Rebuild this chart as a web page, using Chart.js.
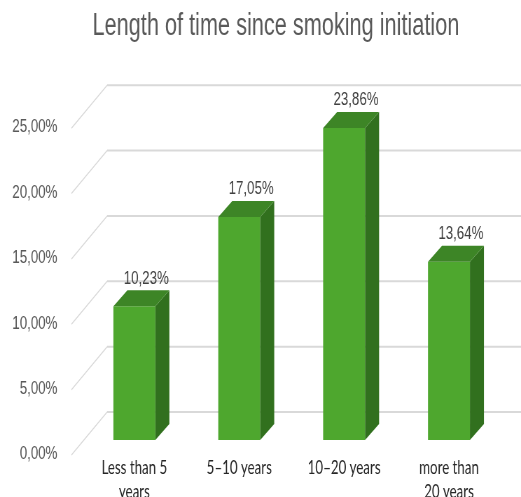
<!DOCTYPE html>
<html>
<head>
<meta charset="utf-8">
<script src="https://cdn.jsdelivr.net/npm/chart.js@4/dist/chart.umd.min.js"></script>
<style>
  html, body { margin: 0; padding: 0; background: #fff; overflow: hidden; }
  canvas { display: block; }
</style>
</head>
<body>
<!-- drawn on a wider backing canvas and squeezed to 521px, which gives the condensed lettering -->
<canvas id="chart" width="744" height="497" style="width:521px;height:497px"></canvas>
<script>
const titleText = "Length of time since smoking initiation";
const categories = [["Less than 5", "years"], "5–10 years", "10–20 years", ["more than", "20 years"]];
const shares = [10.23, 17.05, 23.86, 13.64];
const yMin = 0;
const yMax = 25;
const yStep = 5;

const sans = "'Liberation Sans', Arial, sans-serif";
const labelFont = "Lato, 'Open Sans', sans-serif";
const faceColor = "#4ea72e";
const topColor = "#3d8526";
const sideColor = "#31701e";
const gridColor = "#d9d9d9";

// depth offsets of the floor/back wall relative to the bar plane
const backOffset = { x: 36, y: -28 };
const frontOffset = { x: -15, y: 15 };
const barDepth = { x: 20, y: -16 };

const fmt = v => v.toFixed(2).replace(".", ",") + "%";

const depthPlugin = {
    id: "depth",
    afterLayout(chart) {
        // title sits a little right of the canvas centre
        chart.titleBlock.left += 36;
        chart.titleBlock.right += 36;
    },
    beforeDatasetsDraw(chart) {
        const ctx = chart.ctx;
        const y = chart.scales.y;
        const area = chart.chartArea;
        ctx.save();
        ctx.strokeStyle = gridColor;
        y.ticks.forEach(t => {
            const py = y.getPixelForValue(t.value);
            ctx.lineWidth = 2;
            ctx.beginPath();
            ctx.moveTo(area.left + backOffset.x, py + backOffset.y);
            ctx.lineTo(chart.width, py + backOffset.y);
            ctx.stroke();
            ctx.lineWidth = 1.3;
            ctx.beginPath();
            ctx.moveTo(area.left + frontOffset.x, py + frontOffset.y);
            ctx.lineTo(area.left + backOffset.x, py + backOffset.y);
            ctx.stroke();
        });
        ctx.restore();
    },
    afterDatasetsDraw(chart) {
        const ctx = chart.ctx;
        const meta = chart.getDatasetMeta(0);
        ctx.save();
        meta.data.forEach((bar, i) => {
            const p = bar.getProps(["x", "y", "base", "width"], true);
            const l = p.x - p.width / 2;
            const r = p.x + p.width / 2;
            // side face
            ctx.fillStyle = sideColor;
            ctx.beginPath();
            ctx.moveTo(r, p.y);
            ctx.lineTo(r + barDepth.x, p.y + barDepth.y);
            ctx.lineTo(r + barDepth.x, p.base + barDepth.y);
            ctx.lineTo(r, p.base);
            ctx.closePath();
            ctx.fill();
            // top face
            ctx.fillStyle = topColor;
            ctx.beginPath();
            ctx.moveTo(l, p.y);
            ctx.lineTo(l + barDepth.x, p.y + barDepth.y);
            ctx.lineTo(r + barDepth.x, p.y + barDepth.y);
            ctx.lineTo(r, p.y);
            ctx.closePath();
            ctx.fill();
            // value label
            ctx.fillStyle = "#404040";
            ctx.font = "19px " + sans;
            ctx.textAlign = "center";
            ctx.textBaseline = "middle";
            ctx.fillText(fmt(shares[i]), p.x + 17, p.y - 28);
        });
        ctx.restore();
    }
};

new Chart(document.getElementById("chart"), {
    type: "bar",
    data: {
        labels: categories,
        datasets: [{
            data: shares,
            backgroundColor: faceColor,
            borderWidth: 0,
            barPercentage: 0.4,
            categoryPercentage: 1
        }]
    },
    options: {
        responsive: false,
        animation: false,
        layout: { padding: { left: 0, right: 28, top: 0, bottom: 0 } },
        plugins: {
            legend: { display: false },
            tooltip: { enabled: false },
            title: {
                display: true,
                text: titleText,
                color: "#595959",
                font: { family: sans, size: 31, weight: "normal", lineHeight: 1.2 },
                padding: { top: 8, bottom: 68 }
            }
        },
        scales: {
            x: {
                grid: { display: false, drawTicks: false },
                border: { display: false },
                ticks: {
                    color: "#262626",
                    font: { family: labelFont, size: 19, lineHeight: 1.25 },
                    padding: 16,
                    maxRotation: 0,
                    autoSkip: false
                },
                afterFit(scale) { scale.height = 57; }
            },
            y: {
                min: yMin,
                max: yMax,
                grid: { display: false, drawTicks: false },
                border: { display: false },
                ticks: {
                    stepSize: yStep,
                    color: "#595959",
                    font: { family: sans, size: 19 },
                    padding: 35,
                    labelOffset: 14,
                    callback: v => fmt(v)
                },
                afterFit(scale) { scale.width = 117; }
            }
        }
    },
    plugins: [depthPlugin]
});
</script>
</body>
</html>
